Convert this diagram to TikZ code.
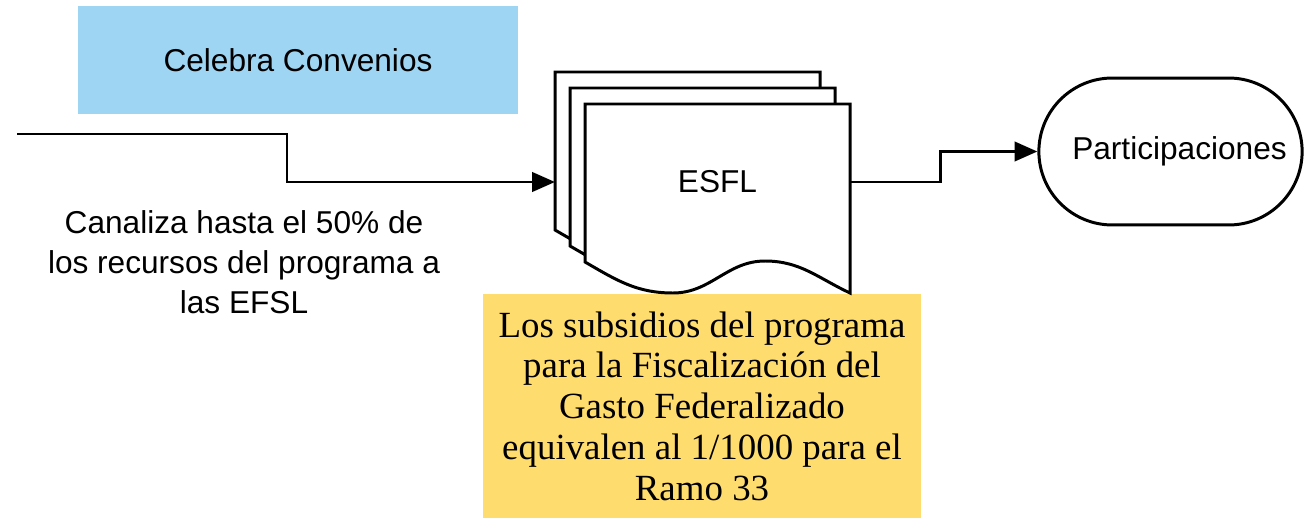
\documentclass[tikz,border=0pt]{standalone}
\usepackage{fontspec}
\setmainfont{Liberation Serif}
\setsansfont{Liberation Sans}
\usetikzlibrary{arrows.meta,shapes.misc,positioning}
\definecolor{convblue}{HTML}{9DD5F3}
\definecolor{notegold}{HTML}{FFDC6E}
\tikzset{
  flow/.style={line width=1.7pt, -{Triangle[length=13pt,width=11pt]}},
  page/.style={draw, line width=1.7pt, fill=white, line join=miter},
  sanslabel/.style={font=\sffamily\fontsize{18}{22.7}\selectfont, align=center},
}
\begin{document}
\begin{tikzpicture}[x=0.02cm,y=-0.02cm]
    \useasboundingbox (0,0) rectangle (1311,517);
    % boxes
    \node[fill=convblue, minimum width=8.8cm, minimum height=2.16cm, sanslabel] (conv) at (298,60) {Celebra Convenios};
    \node[fill=notegold, minimum width=8.76cm, minimum height=4.5cm, inner sep=0pt,
          font=\fontsize{21}{23.2}\selectfont, align=center] (subs) at (702,406)
        {Los subsidios del programa\\para la Fiscalización del\\Gasto Federalizado\\equivalen al 1/1000 para el\\Ramo 33};
    % document stack
    \foreach \dx/\dy in {30/32,15/16,0/0}
        \draw[page, shift={(-\dx,-\dy)}] (585,104) -- (850,104) -- (850,293)
            to[out=155,in=0] (765,261) to[out=180,in=0] (673,293)
            to[out=180,in=-30] (585,262) -- cycle;
    \node[sanslabel, minimum width=5.3cm, minimum height=3.12cm] (esfl) at (717.5,182) {ESFL};
    \coordinate (stack) at (555,182);
    \node[draw, rounded rectangle, line width=1.7pt, minimum width=5.5cm, minimum height=2.94cm,
          label={[sanslabel, xshift=0.18cm]center:Participaciones}] (part) at (1170.5,151.5) {};
    \node[sanslabel] (canal) at (244,262) {Canaliza hasta el 50\% de\\los recursos del programa a\\las EFSL};
    % connectors
    \coordinate (src) at (17,134);
    \draw[flow] (src) -- ++(270,0) |- (stack);
    \draw[flow] (esfl.east) -- ++(90,0) |- (part.west);
\end{tikzpicture}
\end{document}
